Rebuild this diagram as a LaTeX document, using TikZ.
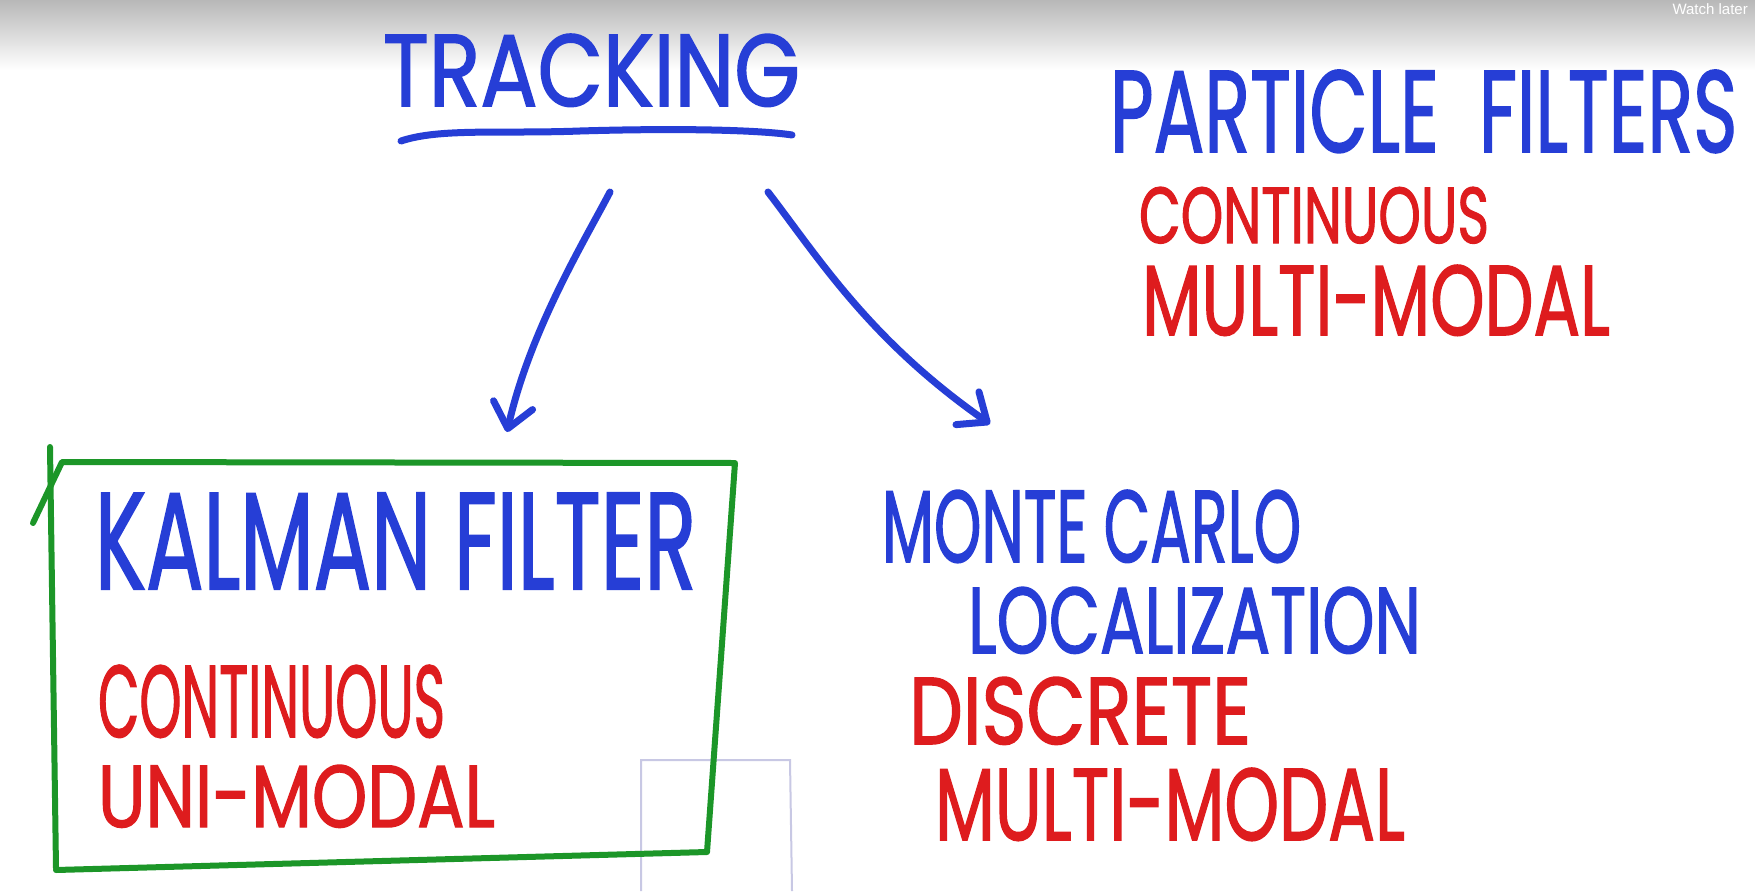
\documentclass[tikz,border=0pt]{standalone}
\usepackage{fontspec}
\newfontfamily\hand[FakeBold=1.6]{Poppins}
\newfontfamily\ytfont{Liberation Sans}
\usetikzlibrary{arrows.meta}
\definecolor{mblue}{RGB}{38,62,214}
\definecolor{mred}{RGB}{222,28,30}
\definecolor{mgreen}{RGB}{28,150,40}
\definecolor{faint}{RGB}{200,200,228}
\newcommand\handtext[3]{\resizebox{#1pt}{#2pt}{\hand #3}}
\tikzset{
  txt/.style={anchor=north west, inner sep=0pt, outer sep=0pt},
  bluetxt/.style={txt, text=mblue},
  redtxt/.style={txt, text=mred},
  pen/.style={line width=7pt, line cap=round, line join=round},
  bluepen/.style={pen, draw=mblue},
  greenpen/.style={pen, draw=mgreen, line width=6pt},
  arrowpen/.style={bluepen, -{Straight Barb[length=24pt,width=40pt,line width=7pt,round]}},
  faintpen/.style={draw=faint, line width=2pt}
}
\begin{document}
\begin{tikzpicture}[x=1pt,y=-1pt]
\useasboundingbox (0,0) rectangle (1755,891);
\fill[white] (0,0) rectangle (1755,891);
\shade[top color=black!28, bottom color=white] (0,0) rectangle (1755,70);
\node[anchor=north east, inner sep=0pt, text=white, font=\ytfont\fontsize{15}{15}\selectfont] (watch) at (1748,3) {Watch later};

% faint rectangle behind
\draw[faintpen] (641,891) -- (641,760) -- (790,760) -- (792,891);

% titles
\node[bluetxt] (tracking) at (383,34) {\handtext{417}{72}{TRACKING}};
\draw[bluepen] (401,141) .. controls (440,128) and (500,134) .. (580,131) .. controls (680,128) and (760,130) .. (792,135);

\node[bluetxt] (particle) at (1110,70) {\handtext{627}{82}{PARTICLE\ \ FILTERS}};
\node[redtxt] (pcont) at (1139,187) {\handtext{350}{56}{CONTINUOUS}};
\node[redtxt] (pmulti) at (1142,265) {\handtext{468}{70}{MULTI-MODAL}};

% arrows
\coordinate (lstart) at (610,192);
\coordinate (ltip) at (507,432);
\coordinate (rstart) at (768,192);
\coordinate (rtip) at (990,424);
\draw[arrowpen] (lstart) .. controls (585,240) and (530,330) .. (ltip);
\draw[arrowpen] (rstart) .. controls (820,260) and (870,340) .. (rtip);

% green box
\draw[greenpen] (50,447) -- (56,868);
\draw[greenpen] (33,523) -- (62,462) -- (735,463) -- (707,852) -- (56,870);

% left box text
\node[bluetxt] (kalman) at (95,493) {\handtext{601}{96}{KALMAN FILTER}};
\node[redtxt] (kcont) at (98,665) {\handtext{347}{72}{CONTINUOUS}};
\node[redtxt] (kuni) at (98,765) {\handtext{397}{62}{UNI-MODAL}};

% right text
\node[bluetxt] (monte) at (882,490) {\handtext{419}{72}{MONTE CARLO}};
\node[bluetxt] (local) at (968,587) {\handtext{453}{66}{LOCALIZATION}};
\node[redtxt] (disc) at (909,677) {\handtext{342}{67}{DISCRETE}};
\node[redtxt] (mmulti) at (935,768) {\handtext{470}{72}{MULTI-MODAL}};
\end{tikzpicture}
\end{document}
